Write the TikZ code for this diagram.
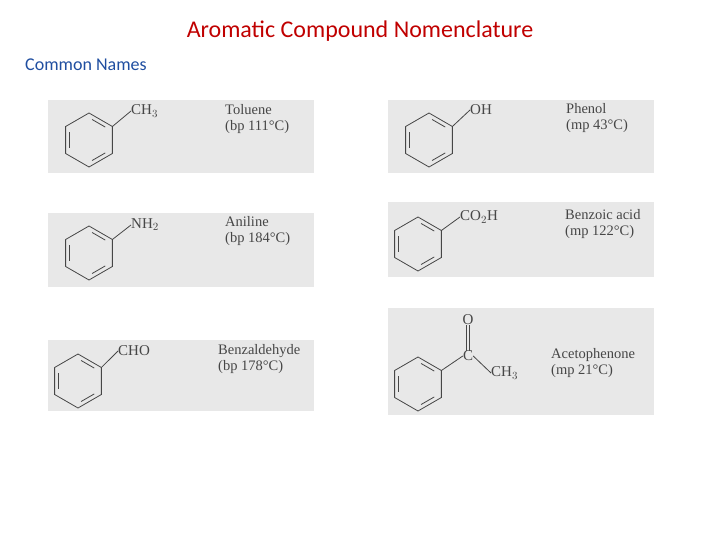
\documentclass[tikz,border=0pt]{standalone}
\usepackage{fontspec}
\setmainfont{Liberation Serif}
\newfontfamily\titlefont{Carlito}
\definecolor{titlered}{RGB}{192,0,0}
\definecolor{subblue}{RGB}{31,78,160}
\definecolor{panelgray}{RGB}{232,232,232}
\definecolor{inkgray}{RGB}{70,70,70}
\tikzset{
  panel/.style={fill=panelgray, draw=none},
  bond/.style={draw=inkgray, line width=0.8pt},
  chem/.style={inner sep=0pt, anchor=west, text=inkgray, font=\fontsize{15}{16}\selectfont},
  cname/.style={inner sep=0pt, anchor=north west, align=left, text=inkgray, font=\fontsize{14.5}{16}\selectfont}
}
% benzene ring: name, centre x, centre y
\newcommand{\benzring}[3]{%
  \foreach \k/\a in {1/-30,2/-90,3/-150,4/-210,5/-270,6/-330}
    \coordinate (#1\k) at ($(#2,#3)+(\a:27)$);
  \draw[bond] (#11) -- (#12) -- (#13) -- (#14) -- (#15) -- (#16) -- cycle;
  % inner double bonds
  \draw[bond] ($(#2,#3)!0.8!(#12)!0.13!(#11)$) -- ($(#2,#3)!0.8!(#11)!0.13!(#12)$);
  \draw[bond] ($(#2,#3)!0.8!(#13)!0.13!(#14)$) -- ($(#2,#3)!0.8!(#14)!0.13!(#13)$);
  \draw[bond] ($(#2,#3)!0.8!(#15)!0.13!(#16)$) -- ($(#2,#3)!0.8!(#16)!0.13!(#15)$);
}
\usetikzlibrary{calc}
\begin{document}
\begin{tikzpicture}[x=1pt,y=-1pt]
\useasboundingbox (0,0) rectangle (720,540);
\node[text=titlered, font=\titlefont\fontsize{24}{28}\selectfont] (title) at (360,31) {Aromatic Compound Nomenclature};
\node[text=subblue, anchor=west, inner sep=0pt, font=\titlefont\fontsize{18}{21}\selectfont] (sub) at (25,65) {Common Names};

% panels
\fill[panel] (48,100) rectangle (314,173);
\fill[panel] (48,213) rectangle (314,287);
\fill[panel] (48,340) rectangle (314,411);
\fill[panel] (388,100) rectangle (654,173);
\fill[panel] (388,202) rectangle (654,277);
\fill[panel] (388,308) rectangle (654,415);

% toluene
\benzring{tol}{89}{140}
\node[chem] (ch3a) at (131,111) {CH$_3$};
\draw[bond] (tol1) -- (ch3a.west);
\node[cname] (tolname) at (225,104) {Toluene\\(bp 111°C)};

% aniline
\benzring{ani}{89}{253}
\node[chem] (nh2) at (131,225) {NH$_2$};
\draw[bond] (ani1) -- (nh2.west);
\node[cname] (aniname) at (225,216) {Aniline\\(bp 184°C)};

% benzaldehyde
\benzring{bzh}{78}{381}
\node[chem] (cho) at (118,351) {CHO};
\draw[bond] (bzh1) -- (cho.west);
\node[cname] (bzhname) at (218,344) {Benzaldehyde\\(bp 178°C)};

% phenol
\benzring{phe}{429}{140}
\node[chem] (oh) at (470,110) {OH};
\draw[bond] (phe1) -- (oh.west);
\node[cname] (phename) at (566,103) {Phenol\\(mp 43°C)};

% benzoic acid
\benzring{bza}{418}{244}
\node[chem] (co2h) at (460,217) {CO$_2$H};
\draw[bond] (bza1) -- (co2h.west);
\node[cname] (bzaname) at (565,209) {Benzoic acid\\(mp 122°C)};

% acetophenone
\benzring{ace}{418}{384}
\node[chem, anchor=center] (cc) at (468,356) {C};
\node[chem, anchor=center] (oo) at (468,320) {O};
\node[chem] (ch3b) at (491,373) {CH$_3$};
\draw[bond] (ace1) -- (cc.west);
\draw[bond] ([xshift=-1.8]cc.north) -- ([xshift=-1.8]oo.south);
\draw[bond] ([xshift=1.8]cc.north) -- ([xshift=1.8]oo.south);
\draw[bond] (cc.east) -- (ch3b.west);
\node[cname] (acename) at (551,348) {Acetophenone\\(mp 21°C)};
\end{tikzpicture}
\end{document}
